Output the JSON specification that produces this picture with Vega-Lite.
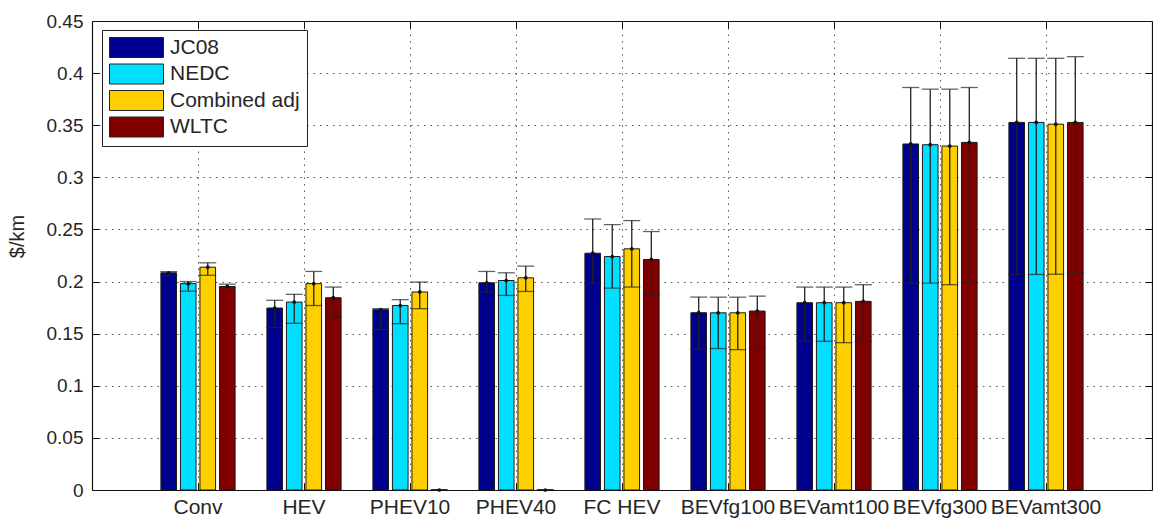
{
  "$schema": "https://vega.github.io/schema/vega-lite/v6.json",
  "width": 1060,
  "height": 469,
  "autosize": {"type": "none"},
  "padding": {"left": 92, "top": 21, "right": 1, "bottom": 28},
  "background": "white",
  "config": {
    "font": "Liberation Sans",
    "view": {"stroke": null},
    "axis": {"labelColor": "#262626", "titleColor": "#262626", "tickColor": "#111", "domainColor": "#111", "domainWidth": 1.2, "tickWidth": 1}
  },
  "data": {
    "values": [
      {"vehicle": "Conv", "cycle": "JC08", "value": 0.2084, "lower": 0.2055, "upper": 0.2095},
      {"vehicle": "Conv", "cycle": "NEDC", "value": 0.198, "lower": 0.1908, "upper": 0.2},
      {"vehicle": "Conv", "cycle": "Combined adj", "value": 0.2138, "lower": 0.206, "upper": 0.218},
      {"vehicle": "Conv", "cycle": "WLTC", "value": 0.1953, "lower": 0.194, "upper": 0.1975},
      {"vehicle": "HEV", "cycle": "JC08", "value": 0.1746, "lower": 0.1558, "upper": 0.182},
      {"vehicle": "HEV", "cycle": "NEDC", "value": 0.1803, "lower": 0.16, "upper": 0.1877},
      {"vehicle": "HEV", "cycle": "Combined adj", "value": 0.198, "lower": 0.177, "upper": 0.2097},
      {"vehicle": "HEV", "cycle": "WLTC", "value": 0.1845, "lower": 0.166, "upper": 0.1947},
      {"vehicle": "PHEV10", "cycle": "JC08", "value": 0.173, "lower": 0.1538, "upper": 0.174},
      {"vehicle": "PHEV10", "cycle": "NEDC", "value": 0.177, "lower": 0.1596, "upper": 0.1826},
      {"vehicle": "PHEV10", "cycle": "Combined adj", "value": 0.19, "lower": 0.174, "upper": 0.1995},
      {"vehicle": "PHEV10", "cycle": "WLTC", "value": 0, "lower": 0, "upper": 0},
      {"vehicle": "PHEV40", "cycle": "JC08", "value": 0.1988, "lower": 0.19, "upper": 0.2097},
      {"vehicle": "PHEV40", "cycle": "NEDC", "value": 0.201, "lower": 0.1867, "upper": 0.2084},
      {"vehicle": "PHEV40", "cycle": "Combined adj", "value": 0.2036, "lower": 0.1905, "upper": 0.2148},
      {"vehicle": "PHEV40", "cycle": "WLTC", "value": 0, "lower": 0, "upper": 0},
      {"vehicle": "FC HEV", "cycle": "JC08", "value": 0.2272, "lower": 0.1985, "upper": 0.26},
      {"vehicle": "FC HEV", "cycle": "NEDC", "value": 0.224, "lower": 0.1937, "upper": 0.2547},
      {"vehicle": "FC HEV", "cycle": "Combined adj", "value": 0.2314, "lower": 0.1947, "upper": 0.2585},
      {"vehicle": "FC HEV", "cycle": "WLTC", "value": 0.2212, "lower": 0.1874, "upper": 0.248},
      {"vehicle": "BEVfg100", "cycle": "JC08", "value": 0.1701, "lower": 0.135, "upper": 0.1851},
      {"vehicle": "BEVfg100", "cycle": "NEDC", "value": 0.17, "lower": 0.1357, "upper": 0.185},
      {"vehicle": "BEVfg100", "cycle": "Combined adj", "value": 0.17, "lower": 0.1347, "upper": 0.185},
      {"vehicle": "BEVfg100", "cycle": "WLTC", "value": 0.1717, "lower": 0.1366, "upper": 0.186},
      {"vehicle": "BEVamt100", "cycle": "JC08", "value": 0.1797, "lower": 0.1427, "upper": 0.1947},
      {"vehicle": "BEVamt100", "cycle": "NEDC", "value": 0.1797, "lower": 0.1427, "upper": 0.1947},
      {"vehicle": "BEVamt100", "cycle": "Combined adj", "value": 0.1797, "lower": 0.1414, "upper": 0.1947},
      {"vehicle": "BEVamt100", "cycle": "WLTC", "value": 0.181, "lower": 0.1427, "upper": 0.197},
      {"vehicle": "BEVfg300", "cycle": "JC08", "value": 0.332, "lower": 0.1985, "upper": 0.3862},
      {"vehicle": "BEVfg300", "cycle": "NEDC", "value": 0.3313, "lower": 0.1985, "upper": 0.3846},
      {"vehicle": "BEVfg300", "cycle": "Combined adj", "value": 0.33, "lower": 0.197, "upper": 0.3846},
      {"vehicle": "BEVfg300", "cycle": "WLTC", "value": 0.3335, "lower": 0.1985, "upper": 0.3862},
      {"vehicle": "BEVamt300", "cycle": "JC08", "value": 0.3527, "lower": 0.2068, "upper": 0.4142},
      {"vehicle": "BEVamt300", "cycle": "NEDC", "value": 0.3527, "lower": 0.2068, "upper": 0.4142},
      {"vehicle": "BEVamt300", "cycle": "Combined adj", "value": 0.351, "lower": 0.207, "upper": 0.4142},
      {"vehicle": "BEVamt300", "cycle": "WLTC", "value": 0.3527, "lower": 0.2084, "upper": 0.4158}
    ]
  },
  "layer": [
    {
      "mark": {"type": "bar", "stroke": "#1a1a1a", "strokeWidth": 1},
      "encoding": {
        "x": {
          "field": "vehicle", "type": "nominal",
          "sort": ["Conv", "HEV", "PHEV10", "PHEV40", "FC HEV", "BEVfg100", "BEVamt100", "BEVfg300", "BEVamt300"],
          "scale": {"paddingInner": 0.3, "paddingOuter": 0.65},
          "axis": {"orient": "bottom", "title": null, "labelAngle": 0, "labelFontSize": 21, "labelPadding": 13.5, "labelOverlap": false, "grid": false, "ticks": true, "tickSize": -7, "bandPosition": 0.5, "domain": true, "zindex": 1}
        },
        "xOffset": {
          "field": "cycle", "type": "nominal",
          "sort": ["JC08", "NEDC", "Combined adj", "WLTC"],
          "scale": {"paddingInner": 0.2, "paddingOuter": 0}
        },
        "y": {
          "field": "value", "type": "quantitative",
          "scale": {"domain": [0, 0.45], "nice": false, "zero": true},
          "axis": {"orient": "left", "values": [0, 0.05, 0.1, 0.15, 0.2, 0.25, 0.3, 0.35, 0.4, 0.45], "format": ".2~f", "labelFontSize": 19, "labelPadding": 16, "grid": false, "tickSize": -7, "domain": true, "zindex": 1, "title": "$/km", "titleFontSize": 20, "titleFontWeight": "normal", "titleX": -75, "titleY": 215, "titleAngle": -90, "titleAlign": "center", "titleBaseline": "middle"}
        },
        "color": {
          "field": "cycle", "type": "nominal",
          "sort": ["JC08", "NEDC", "Combined adj", "WLTC"],
          "scale": {"domain": ["JC08", "NEDC", "Combined adj", "WLTC"], "range": ["#00008f", "#00dfff", "#ffd000", "#800000"]},
          "legend": {"orient": "none", "legendX": 10, "legendY": 9, "title": null, "fillColor": "white", "strokeColor": "#222", "padding": 7, "labelFontSize": 21, "labelColor": "#262626", "symbolType": "M-1,-1H4.4V1H-1Z", "symbolSize": 400, "labelOffset": 40, "rowPadding": 1.5, "symbolStrokeColor": "#222", "symbolStrokeWidth": 1, "symbolOpacity": 1}
        }
      }
    },
    {
      "mark": {"type": "rule", "stroke": "#222", "strokeWidth": 1.3},
      "encoding": {
        "x": {
          "field": "vehicle", "type": "nominal",
          "sort": ["Conv", "HEV", "PHEV10", "PHEV40", "FC HEV", "BEVfg100", "BEVamt100", "BEVfg300", "BEVamt300"],
          "axis": {"orient": "top", "title": null, "labels": false, "grid": false, "ticks": true, "tickSize": -7, "bandPosition": 0.5, "domain": true, "zindex": 1}
        },
        "xOffset": {"field": "cycle", "type": "nominal", "sort": ["JC08", "NEDC", "Combined adj", "WLTC"]},
        "y": {
          "field": "lower", "type": "quantitative",
          "axis": {"orient": "right", "title": null, "labels": false, "grid": false, "values": [0, 0.05, 0.1, 0.15, 0.2, 0.25, 0.3, 0.35, 0.4, 0.45], "tickSize": -7, "domain": true, "zindex": 1}
        },
        "y2": {"field": "upper"}
      }
    },
    {
      "transform": [{"fold": ["lower", "upper"], "as": ["bound", "bound_value"]}],
      "mark": {"type": "tick", "color": "#222", "size": 17, "thickness": 1.3},
      "encoding": {
        "x": {"field": "vehicle", "type": "nominal", "sort": ["Conv", "HEV", "PHEV10", "PHEV40", "FC HEV", "BEVfg100", "BEVamt100", "BEVfg300", "BEVamt300"], "axis": null},
        "xOffset": {"field": "cycle", "type": "nominal", "sort": ["JC08", "NEDC", "Combined adj", "WLTC"]},
        "y": {"field": "bound_value", "type": "quantitative", "axis": null}
      }
    },
    {
      "mark": {"type": "point", "filled": true, "color": "#111", "size": 14, "opacity": 1},
      "encoding": {
        "x": {
          "field": "vehicle", "type": "nominal",
          "sort": ["Conv", "HEV", "PHEV10", "PHEV40", "FC HEV", "BEVfg100", "BEVamt100", "BEVfg300", "BEVamt300"],
          "axis": {"orient": "bottom", "title": null, "labels": false, "ticks": false, "domain": false, "grid": true, "gridColor": "#555", "gridDash": [1.5, 5], "gridWidth": 1, "bandPosition": 0.5, "zindex": 0}
        },
        "xOffset": {"field": "cycle", "type": "nominal", "sort": ["JC08", "NEDC", "Combined adj", "WLTC"]},
        "y": {
          "field": "value", "type": "quantitative",
          "axis": {"orient": "left", "title": null, "labels": false, "ticks": false, "domain": false, "grid": true, "gridColor": "#555", "gridDash": [1.5, 5], "gridWidth": 1, "values": [0.05, 0.1, 0.15, 0.2, 0.25, 0.3, 0.35, 0.4], "zindex": 0}
        }
      }
    }
  ],
  "resolve": {"axis": {"x": "independent", "y": "independent"}}
}
